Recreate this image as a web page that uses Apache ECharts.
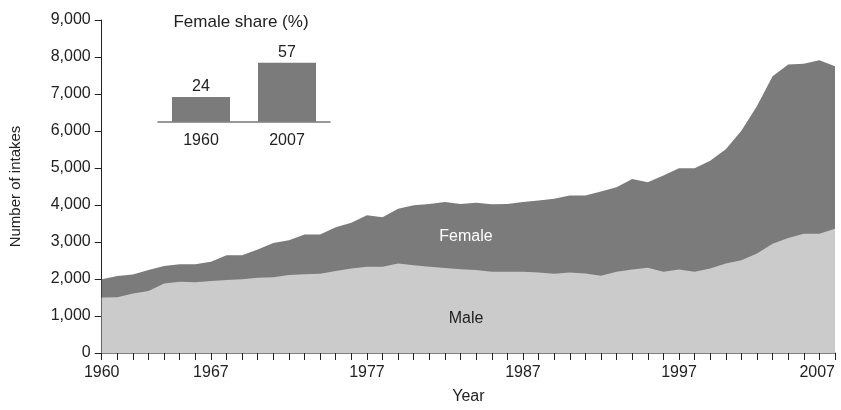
<!DOCTYPE html>
<html>
<head>
<meta charset="utf-8">
<script src="https://cdn.jsdelivr.net/npm/echarts@6/dist/echarts.min.js"></script>
<style>
html,body{margin:0;padding:0;background:#fff;}
#chart{width:841px;height:410px;}
</style>
</head>
<body>
<div id="chart"></div>
<script>
var years = [];
for (var y = 1960; y <= 2007; y++) years.push(String(y));
var labelYears = ['1960','1967','1977','1987','1997','2007'];
var maleValues = [1500,1505,1610,1675,1880,1925,1910,1945,1970,1990,
  2035,2050,2105,2130,2140,2215,2285,2330,2330,2420,
  2375,2330,2300,2265,2240,2195,2195,2195,2175,2140,
  2175,2150,2090,2195,2260,2305,2195,2260,2195,2285,
  2420,2510,2690,2955,3110,3225,3225,3360];
var totalValues = [1990,2080,2120,2240,2350,2400,2400,2465,2645,2640,
  2800,2975,3045,3200,3200,3400,3520,3720,3670,3900,
  3990,4030,4080,4030,4060,4020,4030,4080,4120,4170,
  4255,4255,4365,4480,4700,4615,4795,4990,4990,5195,
  5510,6005,6675,7480,7795,7815,7910,7750];
var shareCategories = ['1960','2007'];
var shareValues = [24, 57];

var FONT = '"Liberation Sans", Arial, sans-serif';
var TXT = '#222';

var chart = echarts.init(document.getElementById('chart'), null, {renderer:'canvas'});
chart.setOption({
  animation: false,
  textStyle: {fontFamily: FONT},
  grid: [
    {left: 101.7, right: 6, top: 20, bottom: 55},
    {left: 158, width: 172, top: 59.7, height: 62}
  ],
  xAxis: [
    {
      type: 'category', gridIndex: 0, data: years, boundaryGap: false,
      name: 'Year', nameLocation: 'middle', nameGap: 36,
      nameTextStyle: {fontSize: 16, color: TXT, fontFamily: FONT},
      axisLine: {lineStyle: {color: '#555', width: 1.5}},
      axisTick: {show: true, interval: 0, length: 7, lineStyle: {color: '#222', width: 1}},
      axisLabel: {
        interval: function (i, v) { return labelYears.indexOf(v) >= 0; },
        margin: 12, fontSize: 16, color: TXT, fontFamily: FONT,
        alignMaxLabel: 'right'
      },
      splitLine: {show: false}
    },
    {
      type: 'category', gridIndex: 1, data: shareCategories,
      axisLine: {lineStyle: {color: '#777', width: 1.5}},
      axisTick: {show: false},
      axisLabel: {margin: 11, fontSize: 16, color: TXT, fontFamily: FONT}
    }
  ],
  yAxis: [
    {
      type: 'value', gridIndex: 0, min: 0, max: 9000, interval: 1000,
      name: 'Number of intakes', nameLocation: 'middle', nameGap: 78,
      nameTextStyle: {fontSize: 15, color: TXT, fontFamily: FONT},
      axisLine: {show: true, lineStyle: {color: '#222', width: 1}},
      axisTick: {show: true, length: 7, lineStyle: {color: '#222'}},
      axisLabel: {
        margin: 11, fontSize: 16, color: TXT, fontFamily: FONT,
        formatter: function (v) { return v.toLocaleString('en-US'); }
      },
      splitLine: {show: false}
    },
    {
      type: 'value', gridIndex: 1, min: 0, max: 60, show: false,
      splitLine: {show: false}
    }
  ],
  series: [
    {
      name: 'Female', type: 'line', xAxisIndex: 0, yAxisIndex: 0,
      data: totalValues, symbol: 'none', lineStyle: {width: 0},
      areaStyle: {color: '#7b7b7b', opacity: 1}, z: 1
    },
    {
      name: 'Male', type: 'line', xAxisIndex: 0, yAxisIndex: 0,
      data: maleValues, symbol: 'none', lineStyle: {width: 0},
      areaStyle: {color: '#cbcbcb', opacity: 1}, z: 2
    },
    {
      name: 'Female share', type: 'bar', xAxisIndex: 1, yAxisIndex: 1,
      data: shareValues, barWidth: 58,
      itemStyle: {color: '#7b7b7b'},
      label: {show: true, position: 'top', distance: 2, fontSize: 16, color: TXT, fontFamily: FONT}
    }
  ],
  graphic: [
    {type: 'text', x: 241, y: 22, style: {text: 'Female share (%)', font: '17px ' + FONT, fill: TXT, textAlign: 'center', textVerticalAlign: 'middle'}},
    {type: 'text', x: 466, y: 237, z: 10, style: {text: 'Female', font: '16px ' + FONT, fill: '#fff', textAlign: 'center', textVerticalAlign: 'middle'}},
    {type: 'text', x: 466, y: 319, z: 10, style: {text: 'Male', font: '16px ' + FONT, fill: '#222', textAlign: 'center', textVerticalAlign: 'middle'}}
  ]
});
</script>
</body>
</html>
